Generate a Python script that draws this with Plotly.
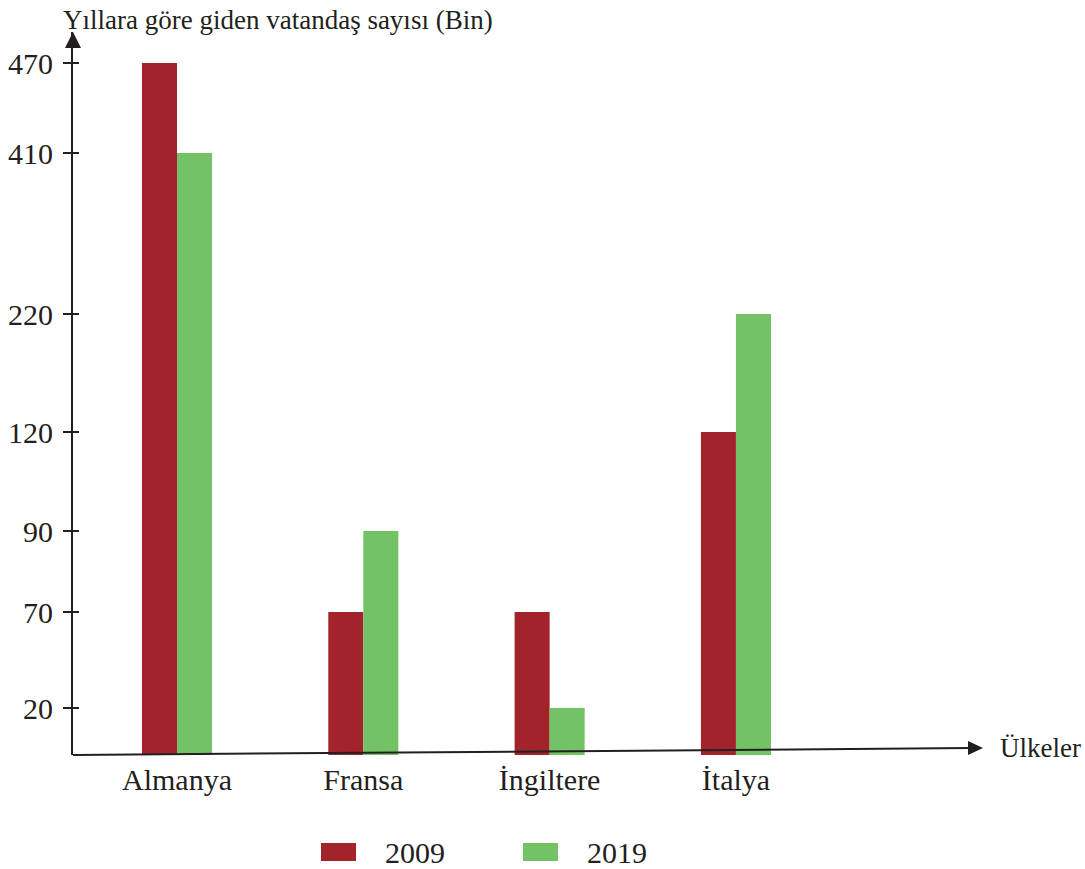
import numpy as np
import plotly.graph_objects as go

# ---- data ----
countries = ["Almanya", "Fransa", "İngiltere", "İtalya"]
values_2009 = [470, 70, 70, 120]
values_2019 = [410, 90, 20, 220]
series_names = ["2009", "2019"]
series_colors = ["#A3232B", "#74C266"]

# ---- the chart's own (non-linear, hand-drawn) vertical scale ----
tick_values = [20, 70, 90, 120, 220, 410, 470]
scale_positions = [47, 143, 224, 323, 441, 602, 692]


def to_scale(v):
    return np.interp(v, [0] + tick_values, [0] + scale_positions)


FONT = "Liberation Serif, Times New Roman, serif"
INK = "#231F20"

# layout geometry (pixels)
L, R, T, B = 73, 102, 32, 114
W, H = 1085, 869
PW, PH = W - L - R, H - T - B


def px(xp):
    return (xp - L) / PW


def py(yp):
    return (H - B - yp) / PH


fig = go.Figure()
for name, vals, col in zip(series_names, [values_2009, values_2019], series_colors):
    fig.add_trace(go.Bar(
        x=countries, y=to_scale(vals), name=name, marker_color=col,
        marker_line_width=0, showlegend=False,
        customdata=vals, hovertemplate="%{x}: %{customdata}<extra>" + name + "</extra>",
    ))

shapes = []
# tilted x-axis line with arrow
shapes.append(dict(type="line", xref="paper", yref="paper", x0=0, y0=0, x1=px(970), y1=py(748.1),
                   line=dict(color=INK, width=2), layer="above"))
shapes.append(dict(type="path", xref="paper", yref="paper",
                   path=f"M {px(968)} {py(741)} L {px(983)} {py(748)} L {px(968)} {py(755)} Z",
                   fillcolor=INK, line=dict(width=0)))
# y-axis arrow
shapes.append(dict(type="path", xref="paper", yref="paper",
                   path=f"M {px(65)} {py(48)} L {px(73)} {py(32)} L {px(81)} {py(48)} Z",
                   fillcolor=INK, line=dict(width=0)))
# inner part of crossing tick marks
for p in scale_positions:
    shapes.append(dict(type="line", xref="paper", yref="y", x0=0, x1=px(79), y0=p, y1=p,
                       line=dict(color=INK, width=2)))

# manual legend
legend_x = [(321, 383), (523, 585)]
annotations = []
for (sx, tx), name, col in zip(legend_x, series_names, series_colors):
    shapes.append(dict(type="rect", xref="paper", yref="paper", x0=px(sx), x1=px(sx + 35),
                       y0=py(861), y1=py(843), fillcolor=col, line=dict(width=0)))
    annotations.append(dict(xref="paper", yref="paper", x=px(tx), y=py(852), text=name,
                            showarrow=False, xanchor="left", yanchor="middle",
                            font=dict(family=FONT, size=30, color=INK)))

annotations.append(dict(xref="paper", yref="paper", x=px(61), y=py(20),
                        text="Yıllara göre giden vatandaş sayısı (Bin)", showarrow=False,
                        xanchor="left", yanchor="middle", font=dict(family=FONT, size=27, color=INK)))
annotations.append(dict(xref="paper", yref="paper", x=px(998), y=py(748), text="Ülkeler",
                        showarrow=False, xanchor="left", yanchor="middle",
                        font=dict(family=FONT, size=27, color=INK)))

fig.update_layout(
    width=W, height=H,
    margin=dict(l=L, r=R, t=T, b=B, pad=0, autoexpand=False),
    paper_bgcolor="white", plot_bgcolor="white",
    barmode="group", bargap=0.624, bargroupgap=0,
    font=dict(family=FONT, color=INK),
    xaxis=dict(range=[-0.5582, 4.326], showgrid=False, zeroline=False, showline=False,
               automargin=False,
               ticks="", tickfont=dict(family=FONT, size=30, color=INK), ticklabelstandoff=4),
    yaxis=dict(range=[0, PH], showgrid=False, zeroline=False, showline=True, automargin=False,
               linecolor=INK, linewidth=2, tickvals=scale_positions,
               ticktext=[str(v) for v in tick_values], ticks="outside", ticklen=8,
               tickwidth=2, tickcolor=INK, tickfont=dict(family=FONT, size=30, color=INK),
               ticklabelstandoff=4),
    shapes=shapes, annotations=annotations,
)

fig.write_html("out.html")
